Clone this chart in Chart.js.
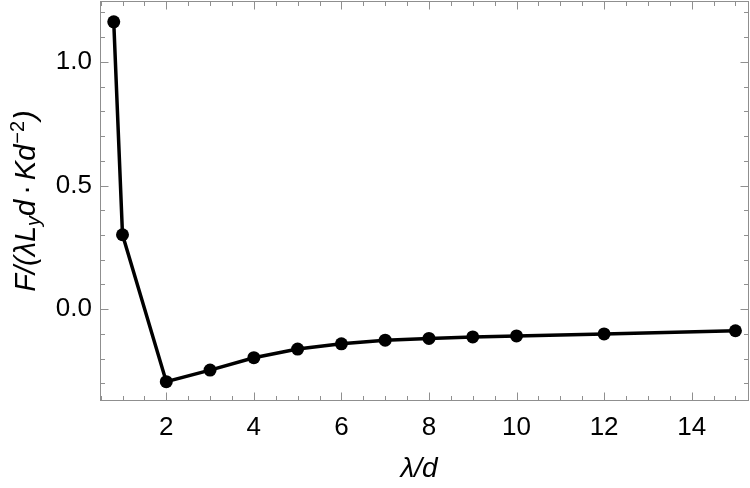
<!DOCTYPE html>
<html>
<head>
<meta charset="utf-8">
<script src="https://cdn.jsdelivr.net/npm/chart.js@4/dist/chart.umd.min.js"></script>
<style>
  html, body { margin: 0; padding: 0; background: #fff; }
  #wrap { width: 750px; height: 488px; position: relative; }
</style>
</head>
<body>
<div id="wrap"><canvas id="c" width="750" height="488"></canvas></div>
<script>
// ---- data ----
const lambdaOverD = [0.8, 1, 2, 3, 4, 5, 6, 7, 8, 9, 10, 12, 15];
const forceValues = [1.162, 0.301, -0.293, -0.246, -0.196, -0.161, -0.140, -0.125, -0.118, -0.112, -0.108, -0.100, -0.087];
const xTickValues = [2, 4, 6, 8, 10, 12, 14];
const yTickValues = [0, 0.5, 1.0];
const xMinorStep = 0.5;
const yMinorStep = 0.1;
const xRange = [0.486, 15.31];
const yRange = [-0.371, 1.246];
const xTitle = "λ/d";

const FRAME = '#8f8f8f';
const FONT = '"Liberation Sans", Arial, sans-serif';

function seq(a, b, step) {
  const out = [];
  const start = Math.ceil(a / step - 1e-9);
  const end = Math.floor(b / step + 1e-9);
  for (let i = start; i <= end; i++) out.push(+(i * step).toFixed(6));
  return out;
}

function zeroPad(s) {
  s.paddingTop = 0; s.paddingBottom = 0; s.paddingLeft = 0; s.paddingRight = 0;
}

const framePlugin = {
  id: 'frame',
  beforeDatasetsDraw(chart) {
    const { ctx, chartArea: a, scales: { x, y } } = chart;
    ctx.save();
    ctx.strokeStyle = FRAME;
    ctx.lineWidth = 1;
    const L = Math.round(a.left) + 0.5, R = Math.round(a.right) - 0.5;
    const T = Math.round(a.top) + 0.5, B = Math.round(a.bottom) - 0.5;
    ctx.strokeRect(L, T, R - L, B - T);
    ctx.beginPath();
    seq(xRange[0], xRange[1], xMinorStep).forEach(v => {
      const major = xTickValues.some(t => Math.abs(t - v) < 1e-6);
      const len = major ? 8 : 4.5;
      const px = Math.round(x.getPixelForValue(v)) + 0.5;
      ctx.moveTo(px, B); ctx.lineTo(px, B - len);
      ctx.moveTo(px, T); ctx.lineTo(px, T + len);
    });
    seq(yRange[0], yRange[1], yMinorStep).forEach(v => {
      const major = yTickValues.some(t => Math.abs(t - v) < 1e-6);
      const len = major ? 8 : 4.5;
      const py = Math.round(y.getPixelForValue(v)) + 0.5;
      ctx.moveTo(L, py); ctx.lineTo(L + len, py);
      ctx.moveTo(R, py); ctx.lineTo(R - len, py);
    });
    ctx.stroke();
    ctx.restore();
  },
  afterDraw(chart) {
    const { ctx, chartArea: a } = chart;
    ctx.save();
    ctx.fillStyle = '#000';
    ctx.font = 'italic 28px ' + FONT;
    ctx.textAlign = 'center';
    ctx.textBaseline = 'alphabetic';
    ctx.fillText(xTitle, 419, 477);
    const big = 29, small = 20;
    const parts = [
      { t: 'F/(λL', s: big, dy: 0 },
      { t: 'y', s: small, dy: 5 },
      { t: 'd', s: big, dy: 0, after: 5 },
      { t: '·', s: big, dy: 0, upright: true, after: 5 },
      { t: 'Kd', s: big, dy: 0, after: 1 },
      { t: '−2', s: small, dy: -11, upright: true, after: 1 },
      { t: ')', s: big, dy: 0 }
    ];
    const fontFor = p => (p.upright ? '' : 'italic ') + p.s + 'px ' + FONT;
    let total = 0;
    parts.forEach(p => { ctx.font = fontFor(p); p.w = ctx.measureText(p.t).width + (p.after || 0); total += p.w; });
    const cy = (a.top + a.bottom) / 2;
    ctx.translate(35, cy);
    ctx.rotate(-Math.PI / 2);
    ctx.textAlign = 'left';
    let cx = -total / 2;
    parts.forEach(p => {
      ctx.font = fontFor(p);
      ctx.fillText(p.t, cx, p.dy);
      cx += p.w;
    });
    ctx.restore();
  }
};

new Chart(document.getElementById('c'), {
  type: 'scatter',
  data: {
    datasets: [{
      data: lambdaOverD.map((v, i) => ({ x: v, y: forceValues[i] })),
      showLine: true,
      borderColor: '#000',
      backgroundColor: '#000',
      borderWidth: 3.5,
      pointRadius: 6.5,
      pointHoverRadius: 6.5,
      pointBorderWidth: 0,
      tension: 0,
      clip: 8
    }]
  },
  options: {
    responsive: false,
    animation: false,
    devicePixelRatio: 1,
    layout: { autoPadding: false, padding: { top: 1, right: 1, left: 0, bottom: 0 } },
    plugins: { legend: { display: false }, tooltip: { enabled: false } },
    scales: {
      x: {
        type: 'linear',
        min: xRange[0],
        max: xRange[1],
        grid: { display: false, drawTicks: false },
        border: { display: false },
        afterBuildTicks: s => { s.ticks = xTickValues.map(v => ({ value: v })); },
        afterFit: s => { s.height = 87; zeroPad(s); },
        ticks: {
          font: { family: FONT, size: 26 },
          color: '#000',
          padding: 11,
          maxRotation: 0,
          autoSkip: false,
          callback: v => String(v)
        }
      },
      y: {
        type: 'linear',
        min: yRange[0],
        max: yRange[1],
        grid: { display: false, drawTicks: false },
        border: { display: false },
        afterBuildTicks: s => { s.ticks = yTickValues.map(v => ({ value: v })); },
        afterFit: s => { s.width = 100; zeroPad(s); },
        ticks: {
          font: { family: FONT, size: 26 },
          color: '#000',
          padding: 8,
          autoSkip: false,
          callback: v => Number(v).toFixed(1)
        }
      }
    }
  },
  plugins: [framePlugin]
});
</script>
</body>
</html>
